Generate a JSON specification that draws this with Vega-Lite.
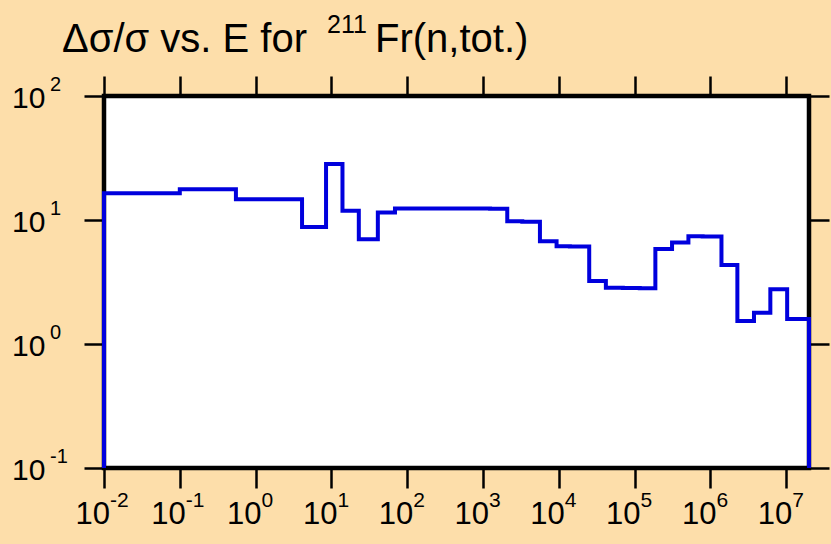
{
  "$schema": "https://vega.github.io/schema/vega-lite/v6.json",
  "width": 705,
  "height": 372,
  "autosize": {"type": "none"},
  "padding": {"left": 104, "top": 96, "right": 22, "bottom": 76},
  "background": "#FDDEAA",
  "config": {
    "view": {"fill": "white", "stroke": "black", "strokeWidth": 4.5},
    "font": "Liberation Sans",
    "axis": {
      "domain": false, "grid": false, "labels": false, "title": null,
      "tickSize": 20, "tickWidth": 2.5, "tickColor": "black"
    },
    "text": {"font": "Liberation Sans", "color": "black"}
  },
  "datasets": {
    "uncertainty": [
      {"i": 0, "E": 0.01, "rel": 0.1},
      {"i": 1, "E": 0.01, "rel": 16.4},
      {"i": 2, "E": 0.1, "rel": 17.7},
      {"i": 3, "E": 0.55, "rel": 14.7},
      {"i": 4, "E": 4.1, "rel": 8.8},
      {"i": 5, "E": 8.5, "rel": 28.3},
      {"i": 6, "E": 14, "rel": 11.9},
      {"i": 7, "E": 23, "rel": 7.0},
      {"i": 8, "E": 41, "rel": 11.5},
      {"i": 9, "E": 69, "rel": 12.4},
      {"i": 10, "E": 1240, "rel": 12.3},
      {"i": 11, "E": 2090, "rel": 9.76},
      {"i": 12, "E": 3300, "rel": 9.7},
      {"i": 13, "E": 5640, "rel": 6.73},
      {"i": 14, "E": 9350, "rel": 6.13},
      {"i": 15, "E": 14000, "rel": 6.1},
      {"i": 16, "E": 25200, "rel": 3.22},
      {"i": 17, "E": 41800, "rel": 2.84},
      {"i": 18, "E": 70000, "rel": 2.83},
      {"i": 19, "E": 117000, "rel": 2.82},
      {"i": 20, "E": 188000, "rel": 5.84},
      {"i": 21, "E": 312000, "rel": 6.6},
      {"i": 22, "E": 513000, "rel": 7.39},
      {"i": 23, "E": 790000, "rel": 7.35},
      {"i": 24, "E": 1400000, "rel": 4.34},
      {"i": 25, "E": 2270000, "rel": 1.53},
      {"i": 26, "E": 3760000, "rel": 1.79},
      {"i": 27, "E": 6180000, "rel": 2.76},
      {"i": 28, "E": 10300000, "rel": 1.59},
      {"i": 29, "E": 20000000, "rel": 1.59},
      {"i": 30, "E": 20000000, "rel": 0.1}
    ],
    "xticks": [
      {"v": 0.01, "e": "-2"}, {"v": 0.1, "e": "-1"}, {"v": 1, "e": "0"},
      {"v": 10, "e": "1"}, {"v": 100, "e": "2"}, {"v": 1000, "e": "3"},
      {"v": 10000, "e": "4"}, {"v": 100000, "e": "5"}, {"v": 1000000, "e": "6"},
      {"v": 10000000, "e": "7"}
    ],
    "yticks": [
      {"v": 0.1, "e": "-1"}, {"v": 1, "e": "0"}, {"v": 10, "e": "1"}, {"v": 100, "e": "2"}
    ]
  },
  "resolve": {"axis": {"x": "independent", "y": "independent"}},
  "layer": [
    {
      "data": {"name": "uncertainty"},
      "mark": {"type": "line", "interpolate": "step-after", "color": "#0000DD", "strokeWidth": 4, "clip": false},
      "encoding": {
        "x": {"field": "E", "type": "quantitative",
              "scale": {"type": "log", "domain": [0.01, 20000000], "nice": false},
              "axis": {"orient": "bottom", "values": [0.01, 0.1, 1, 10, 100, 1000, 10000, 100000, 1000000, 10000000]}},
        "y": {"field": "rel", "type": "quantitative",
              "scale": {"type": "log", "domain": [0.1, 100], "nice": false},
              "axis": {"orient": "left", "values": [0.1, 1, 10, 100]}},
        "order": {"field": "i", "type": "quantitative"}
      }
    },
    {
      "data": {"name": "xticks"},
      "mark": {"type": "text", "align": "right", "baseline": "alphabetic", "fontSize": 31, "dx": 6, "dy": 56},
      "encoding": {
        "x": {"field": "v", "type": "quantitative",
              "axis": {"orient": "top", "values": [0.01, 0.1, 1, 10, 100, 1000, 10000, 100000, 1000000, 10000000]}},
        "y": {"datum": 0.1, "axis": null},
        "text": {"value": "10"}
      }
    },
    {
      "data": {"name": "xticks"},
      "mark": {"type": "text", "align": "left", "baseline": "alphabetic", "fontSize": 21, "dx": 6, "dy": 39},
      "encoding": {
        "x": {"field": "v", "type": "quantitative", "axis": null},
        "y": {"datum": 0.1, "axis": null},
        "text": {"field": "e"}
      }
    },
    {
      "data": {"name": "yticks"},
      "mark": {"type": "text", "align": "left", "baseline": "alphabetic", "fontSize": 30, "dx": -92, "dy": 11.5},
      "encoding": {
        "x": {"datum": 0.01, "axis": null},
        "y": {"field": "v", "type": "quantitative",
              "axis": {"orient": "right", "values": [0.1, 1, 10, 100]}},
        "text": {"value": "10"}
      }
    },
    {
      "data": {"name": "yticks"},
      "mark": {"type": "text", "align": "left", "baseline": "alphabetic", "fontSize": 20, "dx": -54, "dy": -5},
      "encoding": {
        "x": {"datum": 0.01, "axis": null},
        "y": {"field": "v", "type": "quantitative", "axis": null},
        "text": {"field": "e"}
      }
    },
    {
      "data": {"values": [{}]},
      "mark": {"type": "text", "align": "left", "baseline": "alphabetic", "fontSize": 40, "dx": -42, "dy": -44},
      "encoding": {"x": {"datum": 0.01, "axis": null}, "y": {"datum": 100, "axis": null}, "text": {"value": "Δσ/σ vs. E for"}}
    },
    {
      "data": {"values": [{}]},
      "mark": {"type": "text", "align": "left", "baseline": "alphabetic", "fontSize": 25, "dx": 223, "dy": -63},
      "encoding": {"x": {"datum": 0.01, "axis": null}, "y": {"datum": 100, "axis": null}, "text": {"value": "211"}}
    },
    {
      "data": {"values": [{}]},
      "mark": {"type": "text", "align": "left", "baseline": "alphabetic", "fontSize": 40, "dx": 271, "dy": -44},
      "encoding": {"x": {"datum": 0.01, "axis": null}, "y": {"datum": 100, "axis": null}, "text": {"value": "Fr(n,tot.)"}}
    }
  ]
}
